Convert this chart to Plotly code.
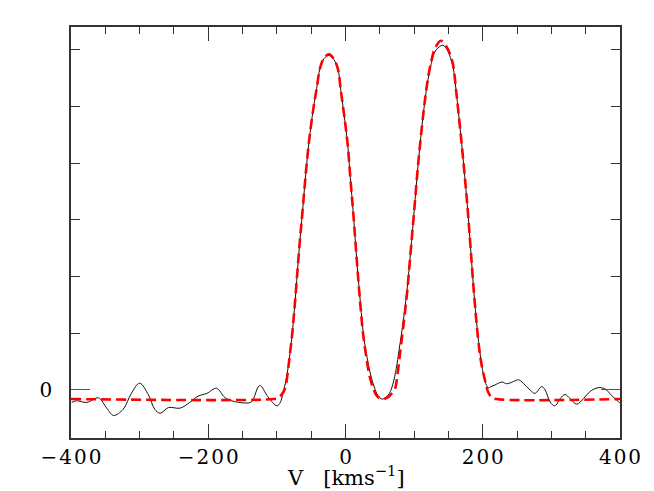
import plotly.graph_objects as go

obs_v = [-399, -392, -377, -360, -348, -338, -324, -312, -300, -287, -278, -270, -258, -241,
         -227, -215, -202, -188, -176, -166, -146, -137, -125, -113, -100, -95, -91, -87, -83,
         -78, -74.5, -70, -66, -63, -58, -53, -47, -42, -37, -31, -24, -17, -11, -7, -2, 3, 7,
         11.5, 17, 22, 26, 31, 36, 42, 47, 53, 59, 64, 69, 74, 78, 84, 90, 95, 100, 106, 113.5,
         119, 125, 131, 142, 149, 153, 157, 161, 165, 172, 177.5, 182.5, 188, 194, 198.5, 203.3,
         208, 212, 218, 228, 235, 245, 252, 259, 269, 276, 286, 291, 298, 305, 313, 320, 327,
         337, 347, 356, 368, 378, 388, 398, 400]
obs_flux = [-0.22, -0.19, -0.22, -0.14, -0.32, -0.45, -0.34, -0.06, 0.12, -0.09, -0.34, -0.41,
            -0.31, -0.32, -0.22, -0.11, -0.06, 0.03, -0.13, -0.19, -0.23, -0.21, 0.08, -0.12,
            -0.28, -0.22, -0.05, 0.15, 0.45, 0.95, 1.41, 2.1, 2.7, 3.1, 3.8, 4.4, 4.95, 5.32,
            5.68, 5.85, 5.9, 5.83, 5.66, 5.3, 4.85, 4.35, 3.75, 3.09, 2.2, 1.5, 1.0, 0.6, 0.3,
            0.05, -0.09, -0.16, -0.13, -0.06, 0.1, 0.38, 0.7, 1.2, 1.8, 2.45, 3.15, 4.0, 4.88,
            5.38, 5.76, 5.98, 6.08, 5.98, 5.86, 5.68, 5.3, 4.85, 4.0, 3.26, 2.47, 1.59, 0.85,
            0.44, 0.15, 0.04, 0.06, 0.09, 0.14, 0.11, 0.15, 0.18, 0.12, 0.0, -0.06, 0.06, 0.0,
            -0.21, -0.28, -0.15, -0.08, -0.15, -0.25, -0.15, -0.03, 0.04, 0.02, -0.1, -0.21, -0.23]

# fitted model (red dashed line)
fit_v = [-400, -105, -98, -93, -89, -86, -82, -78, -74.5, -70, -66, -63, -58, -53, -47, -42,
         -37, -31, -24, -17, -11, -7, -2, 3, 7, 11.5, 17, 22, 26, 31, 35, 40.5, 46, 53, 60, 66,
         72, 76, 80, 85, 90, 95, 100, 106, 113.5, 119, 125, 131, 139, 147, 153, 157, 161, 165,
         172, 177.5, 182.5, 188, 195, 199, 203.5, 208, 213, 220, 400]
fit_flux = [-0.16, -0.16, -0.14, -0.08, 0.0, 0.15, 0.53, 0.95, 1.41, 2.1, 2.7, 3.1, 3.8, 4.4,
            4.95, 5.32, 5.68, 5.86, 5.92, 5.84, 5.66, 5.3, 4.85, 4.35, 3.75, 3.09, 2.2, 1.45,
            0.95, 0.53, 0.25, 0.02, -0.11, -0.16, -0.14, -0.08, 0.02, 0.3, 0.7, 1.2, 1.75, 2.45,
            3.15, 4.0, 4.88, 5.4, 5.8, 6.04, 6.16, 6.06, 5.9, 5.72, 5.3, 4.85, 4.0, 3.26, 2.47,
            1.59, 0.71, 0.4, 0.16, -0.04, -0.13, -0.16, -0.16]

x_major = [-400, -200, 0, 200, 400]
x_labels = ["−\u200a4\u200a0\u200a0", "−\u200a2\u200a0\u200a0", "0", "2\u200a0\u200a0", "4\u200a0\u200a0"]
x_minor = [-350, -300, -250, -150, -100, -50, 50, 100, 150, 250, 300, 350]
y_minor = [1, 2, 3, 4, 5, 6]

fig = go.Figure()
fig.add_trace(go.Scatter(x=obs_v, y=obs_flux, mode="lines", line_shape="spline",
                         line=dict(color="#111111", width=1)))
fig.add_trace(go.Scatter(x=fit_v, y=fit_flux, mode="lines", line_shape="spline",
                         line=dict(color="#ff0000", width=2.6, dash="10px,5px")))

axis_font = dict(family="DejaVu Serif", size=20, color="black")
# page puts the figure about 8px in from the corner, margins allow for that
fig.update_layout(
    width=654, height=491,
    margin=dict(l=63, r=42, t=19, b=61),
    plot_bgcolor="white", paper_bgcolor="white",
    showlegend=False,
    font=axis_font,
)
fig.update_xaxes(
    range=[-400, 400], showgrid=False, zeroline=False, automargin=False,
    showline=True, linecolor="#333333", linewidth=1.5, mirror="ticks",
    tickmode="array", tickvals=x_major, ticktext=x_labels,
    ticks="inside", ticklen=14, tickcolor="#333333", tickwidth=1.2,
    minor=dict(tickmode="array", tickvals=x_minor, ticks="inside", ticklen=7,
               tickcolor="#333333", tickwidth=1.2, showgrid=False),
    tickfont=axis_font, ticklabelstandoff=0,
)
fig.update_yaxes(
    range=[-0.847, 6.402], showgrid=False, zeroline=False, automargin=False,
    showline=True, linecolor="#333333", linewidth=1.5, mirror="ticks",
    tickmode="array", tickvals=[0], ticktext=["0"],
    ticks="inside", ticklen=19, tickcolor="#555555", tickwidth=1.2,
    minor=dict(tickmode="array", tickvals=y_minor, ticks="inside", ticklen=9,
               tickcolor="#333333", tickwidth=1.2, showgrid=False),
    tickfont=axis_font, ticklabelstandoff=13,
)
fig.add_annotation(text="V\u00a0\u00a0\u00a0[kms<sup>−1</sup>]", xref="x", yref="paper",
                   x=0, y=-0.092, yanchor="middle", xanchor="center",
                   showarrow=False, font=dict(family="DejaVu Serif", size=21, color="black"))

fig.write_html("out.html")
